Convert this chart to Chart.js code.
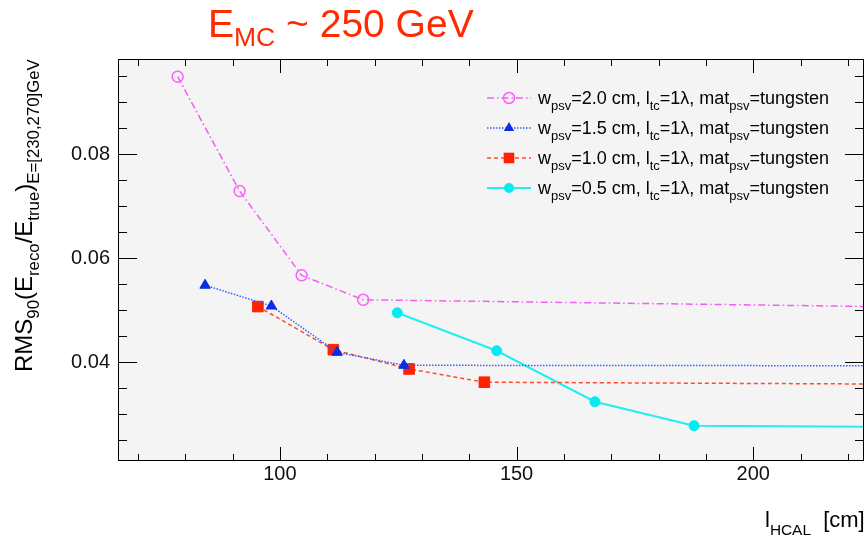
<!DOCTYPE html>
<html>
<head>
<meta charset="utf-8">
<script src="https://cdn.jsdelivr.net/npm/chart.js@4/dist/chart.umd.min.js"></script>
<style>
  html, body { margin: 0; padding: 0; background: #fff; }
  #chart { display: block; }
</style>
</head>
<body>
<canvas id="chart" width="866" height="540"></canvas>
<script>
// Values: x = l_HCAL [cm], y = RMS90
// the last point of each series lies past the right edge, only its line is seen
const xW20 = [78.4, 91.5, 104.6, 117.6, 250];
const yW20 = [0.0949, 0.0729, 0.0567, 0.0520, 0.0504];
const xW15 = [84.2, 98.2, 112.1, 126.2, 250];
const yW15 = [0.0548, 0.0508, 0.0419, 0.0394, 0.0393];
const xW10 = [95.35, 111.3, 127.3, 143.2, 250];
const yW10 = [0.0507, 0.0424, 0.0387, 0.03615, 0.0357];
const xW05 = [124.8, 145.8, 166.55, 187.5, 250];
const yW05 = [0.0495, 0.0422, 0.0324, 0.0278, 0.02745];

const widths = ["2.0", "1.5", "1.0", "0.5"];
const xTicks = [100, 150, 200];
const yTicks = [0.04, 0.06, 0.08];
const xRange = [65.8, 223.4];
const yRange = [0.021, 0.0983];

const FONT = "'Liberation Sans', Arial, sans-serif";

const styles = [
    { line: "#f060f0", marker: "#ff5cff", dash: [7, 3, 1.5, 3], width: 1.5, shape: "circle", r: 5.5, fill: false },
    { line: "#3b5cff", marker: "#0a2ee8", dash: [1.5, 1.5], width: 1.5, shape: "triangle", r: 6, fill: true },
    { line: "#ff4a30", marker: "#ff2200", dash: [4, 3], width: 1.5, shape: "rect", r: 7.5, fill: true },
    { line: "#22eef0", marker: "#00eef0", dash: [], width: 2, shape: "circle", r: 5, fill: true },
];

function series(xs, ys, st) {
    return {
        data: xs.map((v, i) => ({ x: v, y: ys[i] })),
        borderColor: st.line,
        borderWidth: st.width,
        borderDash: st.dash,
        pointStyle: st.shape,
        pointRadius: xs.map((v, i) => i < xs.length - 1 ? st.r : 0),
        pointBorderColor: st.marker,
        pointBorderWidth: st.fill ? 1 : 1.5,
        pointBackgroundColor: st.fill ? st.marker : "rgba(0,0,0,0)",
        tension: 0,
        fill: false,
    };
}

// text with subscripts, parts = [[text, isSub], ...]
function richText(ctx, parts, x, y, size, subScale, subShift) {
    parts.forEach(([t, sub]) => {
        ctx.font = (sub ? size * subScale : size) + "px " + FONT;
        ctx.fillText(t, x, sub ? y + subShift : y);
        x += ctx.measureText(t).width;
    });
    return x;
}

function drawMarker(ctx, st, x, y) {
    ctx.beginPath();
    if (st.shape === "circle") {
        ctx.arc(x, y, st.r, 0, Math.PI * 2);
    } else if (st.shape === "triangle") {
        ctx.moveTo(x, y - st.r);
        ctx.lineTo(x + st.r * Math.sin(Math.PI * 2 / 3), y + st.r / 2);
        ctx.lineTo(x - st.r * Math.sin(Math.PI * 2 / 3), y + st.r / 2);
        ctx.closePath();
    } else {
        const s = st.r * Math.SQRT1_2;
        ctx.rect(x - s, y - s, 2 * s, 2 * s);
    }
    if (st.fill) {
        ctx.fillStyle = st.marker;
        ctx.fill();
    } else {
        ctx.strokeStyle = st.marker;
        ctx.lineWidth = 1.5;
        ctx.stroke();
    }
}

const rootFrame = {
    id: "rootFrame",
    beforeDraw(chart) {
        const { ctx, chartArea: a } = chart;
        ctx.save();
        ctx.fillStyle = "#f4f4f4";
        ctx.fillRect(a.left, a.top, a.right - a.left, a.bottom - a.top);
        ctx.restore();
    },
    afterDraw(chart) {
        const { ctx, chartArea: a, scales } = chart;
        const x = scales.x, y = scales.y;
        ctx.save();

        // frame and inward ticks on all four sides
        ctx.strokeStyle = "#000";
        ctx.lineWidth = 1;
        ctx.beginPath();
        for (let v = 70; v <= 220; v += 10) {
            const px = Math.round(x.getPixelForValue(v)) + 0.5;
            const len = v % 50 === 0 ? 14 : 7;
            ctx.moveTo(px, a.bottom); ctx.lineTo(px, a.bottom - len);
            ctx.moveTo(px, a.top); ctx.lineTo(px, a.top + len);
        }
        for (let i = 5; i <= 19; i++) {
            const py = Math.round(y.getPixelForValue(i * 0.005)) + 0.5;
            const len = i % 4 === 0 ? 19 : 9;
            ctx.moveTo(a.left, py); ctx.lineTo(a.left + len, py);
            ctx.moveTo(a.right, py); ctx.lineTo(a.right - len, py);
        }
        ctx.stroke();
        ctx.strokeRect(a.left + 0.5, a.top + 0.5, a.right - a.left - 1, a.bottom - a.top - 1);

        // legend
        ctx.textBaseline = "alphabetic";
        styles.forEach((st, i) => {
            const ly = 98 + i * 30;
            ctx.strokeStyle = st.line;
            ctx.lineWidth = st.width;
            ctx.setLineDash(st.dash);
            ctx.beginPath();
            ctx.moveTo(487, ly); ctx.lineTo(531, ly);
            ctx.stroke();
            ctx.setLineDash([]);
            drawMarker(ctx, st, 509, ly);
            ctx.fillStyle = "#000";
            richText(ctx, [["w", 0], ["psv", 1], ["=" + widths[i] + " cm, l", 0], ["tc", 1],
                ["=1\u03bb, mat", 0], ["psv", 1], ["=tungsten", 0]], 538, ly + 6, 18, 0.72, 6);
        });

        // title
        ctx.fillStyle = "#ff2a00";
        richText(ctx, [["E", 0], ["MC", 1], [" ~ 250 GeV", 0]], 208, 37, 39, 0.68, 9);

        // axis titles
        ctx.fillStyle = "#000";
        richText(ctx, [["l", 0], ["HCAL", 1], ["  [cm]", 0]], 765, 527, 22, 0.7, 8);
        ctx.translate(32, 372);
        ctx.rotate(-Math.PI / 2);
        richText(ctx, [["RMS", 0], ["90", 1], ["(E", 0], ["reco", 1], ["/E", 0], ["true", 1], [")", 0],
            ["E=[230,270]GeV", 1]], 0, 0, 24, 0.7, 7);
        ctx.restore();
    }
};

new Chart(document.getElementById("chart"), {
    type: "line",
    data: {
        datasets: [
            series(xW20, yW20, styles[0]),
            series(xW15, yW15, styles[1]),
            series(xW10, yW10, styles[2]),
            series(xW05, yW05, styles[3]),
        ]
    },
    options: {
        responsive: false,
        animation: false,
        layout: { autoPadding: false, padding: { left: 0, top: 59, right: 2, bottom: 0 } },
        plugins: { legend: { display: false }, tooltip: { enabled: false } },
        scales: {
            x: {
                type: "linear",
                min: xRange[0],
                max: xRange[1],
                grid: { display: false, drawTicks: false },
                border: { display: false },
                afterBuildTicks: s => { s.ticks = xTicks.map(v => ({ value: v })); },
                afterFit: s => { s.height = 79; s.paddingLeft = 0; s.paddingRight = 0; },
                ticks: { padding: 1, color: "#111", font: { family: FONT, size: 20 }, maxRotation: 0 },
            },
            y: {
                type: "linear",
                min: yRange[0],
                max: yRange[1],
                grid: { display: false, drawTicks: false },
                border: { display: false },
                afterBuildTicks: s => { s.ticks = yTicks.map(v => ({ value: v })); },
                afterFit: s => { s.width = 118; s.paddingTop = 0; s.paddingBottom = 0; },
                ticks: { padding: 8, color: "#111", font: { family: FONT, size: 20 },
                    callback: v => v.toFixed(2) },
            }
        }
    },
    plugins: [rootFrame]
});
</script>
</body>
</html>
